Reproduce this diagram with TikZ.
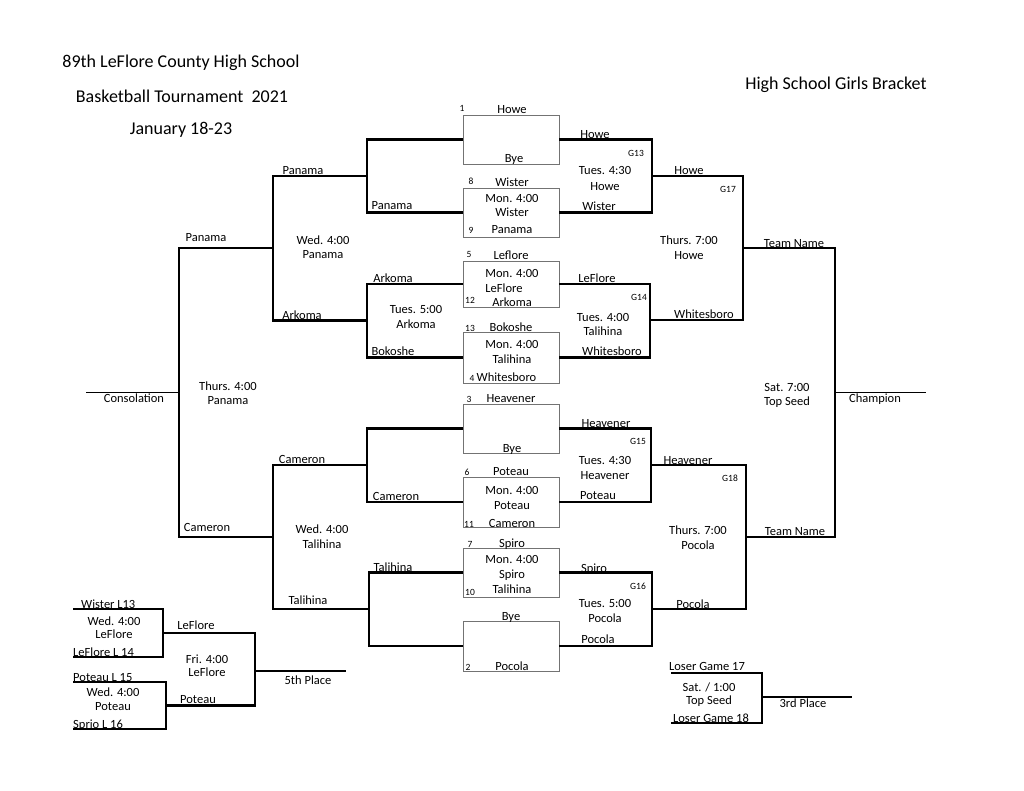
\documentclass[tikz,border=0pt]{standalone}
\usepackage{fontspec}
\setmainfont{Carlito}
\begin{document}
\begin{tikzpicture}[x=1pt,y=-1pt,
  lbl/.style={font=\fontsize{12.5}{14}\selectfont, inner sep=0pt, anchor=base},
  sml/.style={font=\fontsize{9.5}{11}\selectfont, inner sep=0pt, anchor=base},
  ttl/.style={font=\fontsize{18}{21}\selectfont, inner sep=0pt, anchor=base},
  bracket/.style={line width=2.4pt},
  thinline/.style={line width=1.4pt},
  gamebox/.style={draw=black!55, line width=0.9pt, minimum width=96pt, inner sep=0pt}]
\useasboundingbox (0,0) rectangle (1024,791);
\fill[white] (0,0) rectangle (1024,791);

% titles
\node[ttl] (title1) at (181,68) {89th LeFlore County High School};
\node[ttl] (title2) at (182,103) {Basketball Tournament\ \ 2021};
\node[ttl] (title3) at (181,135) {January 18-23};
\node[ttl] (title4) at (836,90) {High School Girls Bracket};

% game boxes
\node[gamebox, minimum height=49pt] (b1) at (511,139.5) {};
\node[gamebox, minimum height=49pt] (b2) at (511,212.5) {};
\node[gamebox, minimum height=46pt] (b3) at (511,284) {};
\node[gamebox, minimum height=51pt] (b4) at (511,357.5) {};
\node[gamebox, minimum height=49pt] (b5) at (511,428.5) {};
\node[gamebox, minimum height=50pt] (b6) at (511,502) {};
\node[gamebox, minimum height=49pt] (b7) at (511,572.5) {};
\node[gamebox, minimum height=50pt] (b8) at (511,646) {};

% junction coordinates
\coordinate (l1) at (367,176);
\coordinate (l2) at (367,320.5);
\coordinate (l3) at (367,465);
\coordinate (l4) at (369,609);
\coordinate (ja) at (273,248.25);
\coordinate (jb) at (273,537);
\coordinate (jc) at (179,392.5);
\coordinate (cons) at (86,392.5);
\coordinate (r1) at (652,176);
\coordinate (r2) at (650,320);
\coordinate (r3) at (651,465);
\coordinate (r4) at (652,609);
\coordinate (jd) at (743,248);
\coordinate (je) at (746,537);
\coordinate (jf) at (835,392.5);
\coordinate (champ) at (926,392.5);

% left bracket
\draw[bracket] (b1.west) -| (l1) (b2.west) -| (l1);
\draw[bracket] (b3.west) -| (l2) (b4.west) -| (l2);
\draw[bracket] (b5.west) -| (l3) (b6.west) -| (l3);
\draw[bracket] (b7.west) -| (l4) (b8.west) -| (l4);
\draw[bracket] (l1) -| (ja) (l2) -| (ja);
\draw[bracket] (l3) -| (jb) (l4) -| (jb);
\draw[bracket] (ja) -| (jc) (jb) -| (jc);
\draw[thinline] (jc) -- (cons);

% right bracket
\draw[bracket] (b1.east) -| (r1) (b2.east) -| (r1);
\draw[bracket] (b3.east) -| (r2) (b4.east) -| (r2);
\draw[bracket] (b5.east) -| (r3) (b6.east) -| (r3);
\draw[bracket] (b7.east) -| (r4) (b8.east) -| (r4);
\draw[bracket] (r1) -| (jd) (r2) -| (jd);
\draw[bracket] (r3) -| (je) (r4) -| (je);
\draw[bracket] (jd) -| (jf) (je) -| (jf);
\draw[thinline] (jf) -- (champ);

% 5th place bracket
\coordinate (w13) at (73,609);
\coordinate (l14) at (73,657);
\coordinate (p15) at (73,682);
\coordinate (s16) at (73,729);
\coordinate (jg) at (163,633);
\coordinate (jh) at (166,705.5);
\coordinate (ji) at (255,671);
\coordinate (fifth) at (346,671);
\draw[bracket] (w13) -| (jg) (l14) -| (jg);
\draw[bracket] (p15) -| (jh) (s16) -| (jh);
\draw[bracket] (jg) -| (ji) (jh) -| (ji);
\draw[thinline] (ji) -- (fifth);

% 3rd place bracket
\coordinate (lg17) at (671,673);
\coordinate (lg18) at (671,723);
\coordinate (jj) at (762,697);
\coordinate (third) at (852,697);
\draw[bracket] (lg17) -| (jj) (lg18) -| (jj);
\draw[bracket] (jj) -- (third);

% box 1
\node[sml] (n1) at (462,112) {1};
\node[lbl] (t1a) at (512,114) {Howe};
\node[lbl] (t1b) at (514,163) {Bye};
% box 2
\node[sml] (n8) at (471,185) {8};
\node[lbl] (t2a) at (512,187) {Wister};
\node[lbl] (t2b) at (512,203) {Mon. 4:00};
\node[lbl] (t2c) at (512,217) {Wister};
\node[sml] (n9) at (471,234) {9};
\node[lbl] (t2d) at (512,234) {Panama};
% box 3
\node[sml] (n5) at (469,258) {5};
\node[lbl] (t3a) at (511,260) {Leflore};
\node[lbl] (t3b) at (512,278) {Mon. 4:00};
\node[lbl] (t3c) at (504,293) {LeFlore};
\node[sml] (n12) at (470,303) {12};
\node[lbl] (t3d) at (512,306) {Arkoma};
% box 4
\node[sml] (n13) at (470,331) {13};
\node[lbl] (t4a) at (511,331) {Bokoshe};
\node[lbl] (t4b) at (512,348) {Mon. 4:00};
\node[lbl] (t4c) at (512,363) {Talihina};
\node[lbl] (t4d) at (503,381) {\fontsize{9.5}{11}\selectfont 4\ \fontsize{12.5}{14}\selectfont Whitesboro};
% box 5
\node[sml] (n3) at (469,402) {3};
\node[lbl] (t5a) at (511,402) {Heavener};
\node[lbl] (t5b) at (512,452) {Bye};
% box 6
\node[sml] (n6) at (467,475) {6};
\node[lbl] (t6a) at (511,475) {Poteau};
\node[lbl] (t6b) at (512,494) {Mon. 4:00};
\node[lbl] (t6c) at (512,509) {Poteau};
\node[sml] (n11) at (469,527) {11};
\node[lbl] (t6d) at (512,527) {Cameron};
% box 7
\node[sml] (n7) at (470,547) {7};
\node[lbl] (t7a) at (512,547) {Spiro};
\node[lbl] (t7b) at (512,563) {Mon. 4:00};
\node[lbl] (t7c) at (512,578) {Spiro};
\node[sml] (n10) at (470,595) {10};
\node[lbl] (t7d) at (512,593) {Talihina};
% box 8
\node[lbl] (t8a) at (511,620) {Bye};
\node[sml] (n2) at (468,670) {2};
\node[lbl] (t8b) at (512,670) {Pocola};

% left labels
\node[lbl] (la1) at (392,210) {Panama};
\node[lbl] (la2) at (393,283) {Arkoma};
\node[lbl] (la3) at (416,313) {Tues. 5:00};
\node[lbl] (la4) at (416,328) {Arkoma};
\node[lbl] (la5) at (393,355) {Bokoshe};
\node[lbl] (la6) at (396,500) {Cameron};
\node[lbl] (la7) at (393,571) {Talihina};
\node[lbl] (lb1) at (303,175) {Panama};
\node[lbl] (lb2) at (323,245) {Wed. 4:00};
\node[lbl] (lb3) at (323,259) {Panama};
\node[lbl] (lb4) at (302,319) {Arkoma};
\node[lbl] (lb5) at (302,463) {Cameron};
\node[lbl] (lb6) at (322,533) {Wed. 4:00};
\node[lbl] (lb7) at (322,548) {Talihina};
\node[lbl] (lb8) at (308,604) {Talihina};
\node[lbl] (lc1) at (206,242) {Panama};
\node[lbl] (lc2) at (228,390) {Thurs. 4:00};
\node[lbl] (lc3) at (228,404) {Panama};
\node[lbl] (lc4) at (207,531) {Cameron};
\node[lbl] (lc5) at (134,402) {Consolation};

% right labels
\node[lbl] (ra1) at (595,139) {Howe};
\node[sml] (g13) at (636,157) {G13};
\node[lbl] (ra2) at (605,175) {Tues. 4:30};
\node[lbl] (ra3) at (605,191) {Howe};
\node[lbl] (ra4) at (599,211) {Wister};
\node[lbl] (ra5) at (597,283) {LeFlore};
\node[sml] (g14) at (639,300) {G14};
\node[lbl] (ra6) at (603,321) {Tues. 4:00};
\node[lbl] (ra7) at (603,335) {Talihina};
\node[lbl] (ra8) at (612,355) {Whitesboro};
\node[lbl] (ra9) at (606,427) {Heavener};
\node[sml] (g15) at (638,444) {G15};
\node[lbl] (ra10) at (605,464) {Tues. 4:30};
\node[lbl] (ra11) at (605,479) {Heavener};
\node[lbl] (ra12) at (598,499) {Poteau};
\node[lbl] (ra13) at (594,572) {Spiro};
\node[sml] (g16) at (638,589) {G16};
\node[lbl] (ra14) at (605,607) {Tues. 5:00};
\node[lbl] (ra15) at (605,622) {Pocola};
\node[lbl] (ra16) at (598,643) {Pocola};
\node[lbl] (rb1) at (689,175) {Howe};
\node[sml] (g17) at (728,193) {G17};
\node[lbl] (rb2) at (689,245) {Thurs. 7:00};
\node[lbl] (rb3) at (689,260) {Howe};
\node[lbl] (rb4) at (704,318) {Whitesboro};
\node[lbl] (rb5) at (688,464) {Heavener};
\node[sml] (g18) at (730,481) {G18};
\node[lbl] (rb6) at (698,534) {Thurs. 7:00};
\node[lbl] (rb7) at (698,549) {Pocola};
\node[lbl] (rb8) at (693,608) {Pocola};
\node[lbl] (rc1) at (794,248) {Team Name};
\node[lbl] (rc2) at (795,535) {Team Name};
\node[lbl] (rc3) at (787,391) {Sat. 7:00};
\node[lbl] (rc4) at (787,405) {Top Seed};
\node[lbl] (rc5) at (875,402) {Champion};

% 5th place labels
\node[lbl, anchor=base west] (f1) at (81,608) {Wister L13};
\node[lbl] (f2) at (114,625) {Wed. 4:00};
\node[lbl] (f3) at (114,638) {LeFlore};
\node[lbl, anchor=base west] (f4) at (73,656) {LeFlore L 14};
\node[lbl, anchor=base west] (f5) at (73,681) {Poteau L 15};
\node[lbl] (f6) at (113,696) {Wed. 4:00};
\node[lbl] (f7) at (113,710) {Poteau};
\node[lbl, anchor=base west] (f8) at (73,728) {Sprio L 16};
\node[lbl] (f9) at (196,629) {LeFlore};
\node[lbl] (f10) at (207,663) {Fri. 4:00};
\node[lbl] (f11) at (207,676) {LeFlore};
\node[lbl] (f12) at (198,703) {Poteau};
\node[lbl] (f13) at (308,684) {5th Place};

% 3rd place labels
\node[lbl] (h1) at (707,670) {Loser Game 17};
\node[lbl] (h2) at (709,691) {Sat. / 1:00};
\node[lbl] (h3) at (709,704) {Top Seed};
\node[lbl] (h4) at (711,722) {Loser Game 18};
\node[lbl] (h5) at (803,707) {3rd Place};
\end{tikzpicture}
\end{document}
